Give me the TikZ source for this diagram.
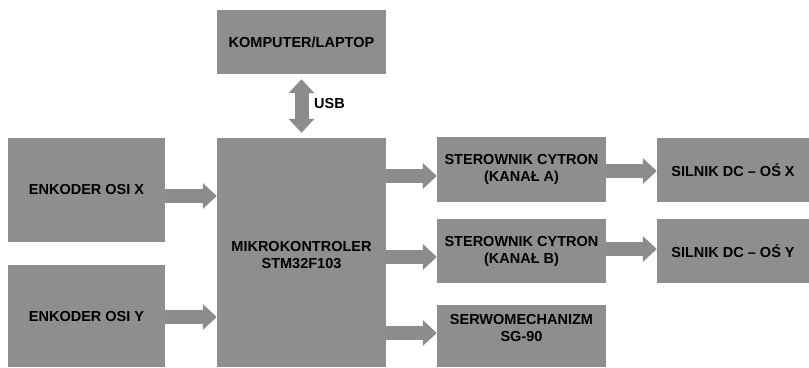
\documentclass[tikz,border=0pt]{standalone}
\usepackage{fontspec}
\setmainfont{Liberation Sans}
\usetikzlibrary{arrows.meta}
\definecolor{boxgray}{HTML}{8E8E8E}
\definecolor{arrgray}{HTML}{8C8C8C}
\tikzset{
  box/.style={fill=boxgray, draw=none, inner sep=0pt, align=center,
    font=\fontsize{14.5}{17}\selectfont\bfseries, text=black},
  blk/.style={draw=arrgray, line width=14pt,
    -{Triangle[length=14pt,width=25pt]}},
  dblk/.style={draw=arrgray, line width=14pt,
    {Triangle[length=14pt,width=25pt]}-{Triangle[length=14pt,width=25pt]}},
  lbl/.style={font=\fontsize{14.5}{17}\selectfont\bfseries, text=black, inner sep=0pt, align=center}
}
\begin{document}
\begin{tikzpicture}[x=1pt,y=-1pt]
\useasboundingbox[fill=white] (0,0) rectangle (809,367);
% boxes
\node[box, minimum width=169, minimum height=64] (kom) at (301.5,42) {KOMPUTER/LAPTOP};
\node[box, minimum width=169, minimum height=229] (mcu) at (301.5,252.5) {};
\node[lbl] (mcutxt) at (301.5,255) {MIKROKONTROLER\\STM32F103};
\node[box, minimum width=157, minimum height=104] (enx) at (86.5,190) {ENKODER OSI X};
\node[box, minimum width=157, minimum height=102] (eny) at (86.5,316) {};
\node[lbl] (enytxt) at (86.5,317) {ENKODER OSI Y};
\node[box, minimum width=169, minimum height=65] (sta) at (521.5,169.5) {STEROWNIK CYTRON\\(KANAŁ A)};
\node[box, minimum width=169, minimum height=64] (stb) at (521.5,251) {STEROWNIK CYTRON\\(KANAŁ B)};
\node[box, minimum width=169, minimum height=62] (ser) at (521.5,336) {};
\node[lbl] (sertxt) at (521.5,328) {SERWOMECHANIZM\\SG-90};
\node[box, minimum width=152, minimum height=64] (six) at (733,170) {SILNIK DC – OŚ X};
\node[box, minimum width=152, minimum height=64] (siy) at (733,251) {SILNIK DC – OŚ Y};
% arrows
\coordinate (ktop) at ([yshift=-5pt]kom.south);
\coordinate (mbot) at ([yshift=5pt]mcu.north);
\draw[dblk] (ktop) -- (mbot);
\node[lbl, anchor=west] (usb) at (314,104) {USB};
\draw[blk] (enx.east |- 0,196) -- (mcu.west |- 0,196);
\draw[blk] (eny.east |- 0,317) -- (mcu.west |- 0,317);
\draw[blk] (mcu.east |- 0,176) -- (sta.west |- 0,176);
\draw[blk] (mcu.east |- 0,257) -- (stb.west |- 0,257);
\draw[blk] (mcu.east |- 0,333) -- (ser.west |- 0,333);
\draw[blk] (sta.east |- 0,171) -- (six.west |- 0,171);
\draw[blk] (stb.east |- 0,249) -- (siy.west |- 0,249);
\end{tikzpicture}
\end{document}
